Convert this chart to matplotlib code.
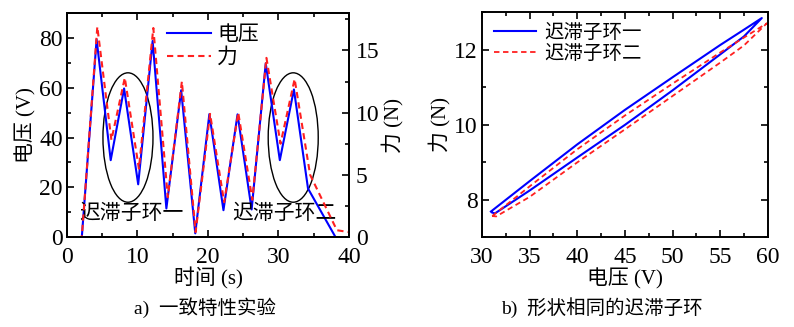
import matplotlib
matplotlib.use("Agg")
import matplotlib.pyplot as plt
from matplotlib.patches import Ellipse
from matplotlib.ticker import AutoMinorLocator

plt.rcParams['font.family'] = ['Liberation Serif', 'Noto Sans CJK SC']
plt.rcParams['axes.unicode_minus'] = False

# 一致特性实验: 电压与力的时间序列
t_volt = [0, 2.1, 4.2, 6.2, 8.1, 10.1, 12.15, 14.1, 16.2, 18.2, 20.2, 22.2, 24.2, 26.2, 28.2, 30.2, 32.2, 34.2, 38.1, 40]
volt = [0, 0, 79.4, 30.9, 59.7, 21.2, 78.8, 11.5, 59.0, 1.5, 49.4, 10.8, 49.3, 11.1, 69.8, 30.9, 59.3, 19.5, 0, 0]

t_force = [0, 2.1, 4.3, 6.3, 8.2, 10.2, 12.25, 14.3, 16.3, 18.25, 20.3, 22.3, 24.3, 26.3, 28.3, 30.3, 32.3, 34.5, 38.3, 40]
force = [0, 0, 16.9, 7.8, 12.8, 5.5, 16.8, 3.2, 12.5, 0.4, 9.9, 2.8, 10.0, 3.0, 14.4, 7.5, 12.7, 5.0, 0.55, 0.4]

# 迟滞子环 (电压-力)
loop1_up_v = [30.94, 35, 40, 45, 50, 55, 57.5, 59.37]
loop1_up_f = [7.69, 8.5, 9.48, 10.4, 11.27, 12.13, 12.54, 12.85]
loop1_dn_v = [59.37, 57.5, 55, 50, 45, 40, 35, 31.36, 31.1]
loop1_dn_f = [12.85, 12.36, 11.88, 10.92, 10.0, 9.13, 8.25, 7.64, 7.66]

loop2_up_v = [31.08, 35, 40, 45, 50, 55, 57.5, 59.9]
loop2_up_f = [7.57, 8.36, 9.35, 10.25, 11.1, 11.93, 12.33, 12.71]
loop2_dn_v = [59.9, 57.5, 55, 50, 45, 40, 35, 31.5, 31.08]
loop2_dn_f = [12.71, 12.12, 11.66, 10.77, 9.88, 9.0, 8.08, 7.56, 7.57]

fig = plt.figure(figsize=(7.94, 3.27), dpi=100)
ax1 = fig.add_axes([0.0844, 0.275, 0.355, 0.685])
ax2 = ax1.twinx()
ax3 = fig.add_axes([0.607, 0.274, 0.360, 0.688])

FS = 15
TS = 17


def style_axis(ax, top=True, right=True, x=True, ypad=3):
    for s in ax.spines.values():
        s.set_linewidth(1.4)
    ax.tick_params(which='both', direction='in', top=top, right=right,
                   labelsize=TS, width=1.2, pad=ypad)
    ax.tick_params(which='major', length=5)
    ax.tick_params(which='minor', length=3)
    if x:
        ax.tick_params(axis='x', pad=7)
        ax.xaxis.set_minor_locator(AutoMinorLocator(2))
    ax.yaxis.set_minor_locator(AutoMinorLocator(2))


# 左图
l1, = ax1.plot(t_volt, volt, color='#0000ff', lw=1.5, label='电压')
l2, = ax2.plot(t_force, force, color='#ff2020', lw=1.5, ls=(0, (3, 2)), label='力')
ax1.set_xlim(0, 40)
ax1.set_ylim(0, 90)
ax2.set_ylim(0, 18)
ax1.set_xticks([0, 10, 20, 30, 40])
ax1.set_yticks([0, 20, 40, 60, 80])
ax2.set_yticks([0, 5, 10, 15])
style_axis(ax1, top=True, right=False)
style_axis(ax2, top=False, right=True, x=False, ypad=5)
ax1.set_xlabel('时间 (s)', fontsize=FS, labelpad=0)
ax1.set_ylabel('电压 (V)', fontsize=FS, labelpad=2)
ax2.set_ylabel('力 (N)', fontsize=FS, rotation=90, labelpad=2)

for cx in (8.65, 32.1):
    ax1.add_patch(Ellipse((cx, 40), 7.1, 52, fill=False, ec='black', lw=1.0))
ax1.text(1.8, 9, '迟滞子环一', fontsize=FS, va='center', ha='left')
ax1.text(23.5, 9, '迟滞子环二', fontsize=FS, va='center', ha='left')

ax2.legend([l1, l2], ['电压', '力'], loc='upper left', bbox_to_anchor=(0.31, 1.0),
           frameon=False, fontsize=FS, handlelength=2.1, handletextpad=0.3,
           labelspacing=0.15, borderaxespad=0.2)

# 右图
ax3.plot(loop1_up_v + loop1_dn_v, loop1_up_f + loop1_dn_f, color='#0000ff', lw=1.5, label='迟滞子环一')
ax3.plot(loop2_up_v + loop2_dn_v, loop2_up_f + loop2_dn_f, color='#ff2020', lw=1.3,
         ls=(0, (3, 2)), label='迟滞子环二')
ax3.set_xlim(30, 60)
ax3.set_ylim(7, 13)
ax3.set_xticks([30, 35, 40, 45, 50, 55, 60])
ax3.set_yticks([8, 10, 12])
style_axis(ax3)
ax3.set_xlabel('电压 (V)', fontsize=FS, labelpad=0)
ax3.set_ylabel('力 (N)', fontsize=FS, labelpad=2)
ax3.legend(loc='upper left', frameon=False, fontsize=14, handlelength=2.2,
           handletextpad=0.4, labelspacing=0.15, borderaxespad=0.2)

fig.text(0.258, 0.058, 'a)  一致特性实验', fontsize=14, ha='center', va='center')
fig.text(0.758, 0.058, 'b)  形状相同的迟滞子环', fontsize=14, ha='center', va='center')

fig.savefig('out.png', dpi=100)
